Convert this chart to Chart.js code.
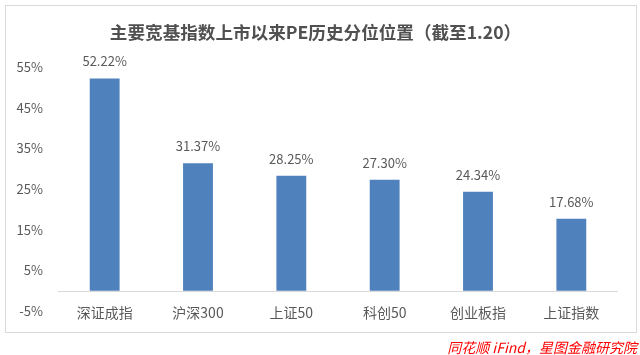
<!DOCTYPE html>
<html>
<head>
<meta charset="utf-8">
<script src="https://cdn.jsdelivr.net/npm/chart.js@4"></script>
<style>
  html, body { margin: 0; padding: 0; background: #ffffff; }
  #wrap { position: relative; width: 640px; height: 355px; overflow: hidden; }
  #frame { position: absolute; left: 5px; top: 5px; width: 630px; height: 326px; border: 1px solid #d9d9d9; }
  #c { position: absolute; left: 0; top: 0; }
  #source { position: absolute; right: 3px; top: 337px; font-family: "Noto Sans CJK SC", sans-serif; font-size: 14px; line-height: 20px; font-style: italic; color: #ff0000; white-space: nowrap; }
</style>
</head>
<body>
<div id="wrap">
  <div id="frame"></div>
  <canvas id="c" width="640" height="355"></canvas>
  <div id="source">同花顺 iFind，星图金融研究院</div>
</div>
<script>
const categories = ["深证成指", "沪深300", "上证50", "科创50", "创业板指", "上证指数"];
const peQuantile = [52.22, 31.37, 28.25, 27.30, 24.34, 17.68];
const yTicks = [-5, 5, 15, 25, 35, 45, 55];
const chartTitle = "主要宽基指数上市以来PE历史分位位置（截至1.20）";

const FONT = '"Noto Sans CJK SC", "Noto Sans", sans-serif';
const TXT = '#595959';

const zeroLine = {
  id: 'zeroLine',
  beforeDatasetsDraw(chart) {
    const { ctx, chartArea } = chart;
    const y = Math.round(chart.scales.y.getPixelForValue(0)) + 0.5;
    ctx.save();
    ctx.strokeStyle = '#d9d9d9';
    ctx.lineWidth = 1;
    ctx.beginPath();
    ctx.moveTo(chartArea.left, y);
    ctx.lineTo(chartArea.right, y);
    ctx.stroke();
    ctx.restore();
  }
};

const valueLabels = {
  id: 'valueLabels',
  afterDatasetsDraw(chart) {
    const { ctx } = chart;
    const meta = chart.getDatasetMeta(0);
    ctx.save();
    ctx.font = '13px ' + FONT;
    ctx.fillStyle = TXT;
    ctx.textAlign = 'center';
    ctx.textBaseline = 'middle';
    meta.data.forEach((bar, i) => {
      const v = chart.data.datasets[0].data[i];
      ctx.fillText(v.toFixed(2) + '%', bar.x, bar.y - 17);
    });
    ctx.restore();
  }
};

new Chart(document.getElementById('c'), {
  type: 'bar',
  data: {
    labels: categories,
    datasets: [{
      data: peQuantile,
      backgroundColor: '#4f81bd',
      barPercentage: 0.32,
      categoryPercentage: 1.0
    }]
  },
  options: {
    responsive: false,
    animation: false,
    devicePixelRatio: 1,
    layout: { padding: { left: 13, right: 22, top: 0, bottom: 0 } },
    plugins: {
      legend: { display: false },
      tooltip: { enabled: false },
      title: {
        display: true,
        text: chartTitle,
        color: '#505050',
        font: { family: FONT, size: 17.6, weight: 'bold', lineHeight: 1.2 },
        padding: { top: 22, bottom: 24 },
        align: 'center'
      }
    },
    scales: {
      y: {
        min: -5,
        max: 55,
        afterBuildTicks(scale) { scale.ticks = yTicks.map(v => ({ value: v })); },
        afterFit(scale) { scale.width = 45; },
        grid: { display: false, drawTicks: false },
        border: { display: false },
        ticks: {
          padding: 15,
          color: TXT,
          font: { family: FONT, size: 13 },
          callback: v => v + '%'
        }
      },
      x: {
        afterFit(scale) { scale.height = 44; },
        grid: { display: false, drawTicks: false },
        border: { display: false },
        ticks: {
          mirror: true,
          padding: -10,
          color: TXT,
          font: { family: FONT, size: 14 },
          maxRotation: 0
        }
      }
    }
  },
  plugins: [zeroLine, valueLabels]
});
</script>
</body>
</html>
